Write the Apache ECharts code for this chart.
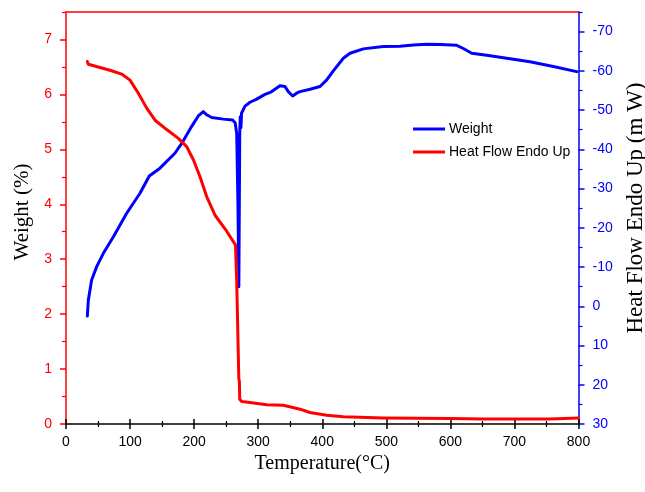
<!DOCTYPE html>
<html>
<head>
<meta charset="utf-8">
<script src="https://cdn.jsdelivr.net/npm/echarts@6/dist/echarts.min.js"></script>
<style>html,body{margin:0;padding:0;background:#fff;}#c{width:645px;height:492px;}</style>
</head>
<body>
<div id="c"></div>
<script>
// Blue series "Weight" (plotted on right axis, mW)
const blueT = [33.3, 34.9, 40, 47.9, 58.3, 74, 94.7, 115.5, 130, 146.7, 170, 180.6, 196, 206.5, 214.3, 219.6, 227.4, 245.6, 260, 264, 266.5, 268.5, 269.8, 270.6, 271.2, 272, 273, 274, 279.4, 287.2, 297.7, 310.6, 320, 334, 341.9, 347, 353.8, 360, 365.3, 381, 396.5, 407, 417.3, 432.9, 443.3, 464.1, 495.3, 521.4, 542.2, 563, 584, 610, 620.2, 633.3, 656.7, 688, 724.3, 760.7, 797.2];
const blueV = [2.5, -1.6, -6.7, -10.1, -13.5, -17.7, -23.7, -28.8, -33.2, -35.2, -39.0, -41.5, -45.8, -48.5, -49.6, -48.8, -48.1, -47.7, -47.5, -46.8, -44, -25, -5, -5, -44, -48.3, -45.5, -49.2, -51, -52, -52.8, -54, -54.6, -56.2, -56.0, -54.7, -53.6, -54.3, -54.7, -55.3, -56.0, -57.7, -60.0, -63.2, -64.5, -65.6, -66.2, -66.3, -66.6, -66.8, -66.7, -66.5, -65.7, -64.5, -64.0, -63.2, -62.3, -61.1, -59.8];
// Red series "Heat Flow Endo Up" (plotted on left axis, %)
const redT = [33.3, 34.8, 53, 68.7, 86.9, 99.9, 112.9, 126, 139, 157.2, 175.3, 188.4, 198.8, 209.2, 219.6, 232.6, 250.8, 264.5, 266.5, 268.5, 269.8, 269.4, 270.6, 271.2, 274.2, 287.2, 313.3, 339.2, 365.3, 380.7, 407, 432.9, 495.3, 599.4, 651.4, 755, 800];
const redW = [6.6, 6.55, 6.49, 6.44, 6.37, 6.26, 6.02, 5.75, 5.53, 5.36, 5.20, 5.05, 4.81, 4.5, 4.14, 3.8, 3.51, 3.26, 2.6, 1.5, 0.82, 0.8, 0.78, 0.45, 0.41, 0.39, 0.35, 0.34, 0.27, 0.21, 0.16, 0.13, 0.11, 0.10, 0.09, 0.09, 0.11];
// Tick labels
const xTicks = [0, 100, 200, 300, 400, 500, 600, 700, 800];
const leftTicks = [0, 1, 2, 3, 4, 5, 6, 7];
const leftMinor = [0.5, 1.5, 2.5, 3.5, 4.5, 5.5, 6.5, 7.5];
const rightTicks = [-70, -60, -50, -40, -30, -20, -10, 0, 10, 20, 30];
const rightMinor = [-75, -65, -55, -45, -35, -25, -15, -5, 5, 15, 25];

const RED = '#ff0000', BLUE = '#0000ff';
const SANS = 'Liberation Sans', SERIF = 'Liberation Serif';

const blueData = blueT.map((t, i) => [t, blueV[i]]);
const redData = redT.map((t, i) => [t, redW[i]]);

const chart = echarts.init(document.getElementById('c'), null, {renderer: 'canvas'});
chart.setOption({
  animation: false,
  backgroundColor: '#fff',
  grid: {left: 66, right: 66.5, top: 12, bottom: 68, containLabel: false, outerBoundsMode: 'none'},
  legend: {
    orient: 'vertical', left: 413, top: 122, padding: 0, itemWidth: 32, itemHeight: 3, itemGap: 9,
    icon: 'rect',
    textStyle: {fontFamily: SANS, fontSize: 14, color: '#000', padding: [0, 0, 0, -1]},
    data: ['Weight', 'Heat Flow Endo Up']
  },
  xAxis: [
    {
      type: 'value', min: 0, max: 800, interval: 100, position: 'bottom',
      axisLine: {show: true, onZero: false, lineStyle: {color: '#000', width: 1.5}},
      axisTick: {show: true, length: 5, customValues: xTicks, lineStyle: {color: '#000', width: 1.5}},
      minorTick: {show: true, splitNumber: 2, length: 3, lineStyle: {color: '#000', width: 1.2}},
      axisLabel: {customValues: xTicks, fontFamily: SANS, fontSize: 14, color: '#000', margin: 11},
      splitLine: {show: false},
      name: 'Temperature(°C)', nameLocation: 'middle', nameGap: 30,
      nameTextStyle: {fontFamily: SERIF, fontSize: 20, color: '#000'}
    },
    {
      type: 'value', min: 0, max: 800, interval: 100, position: 'bottom',
      axisLine: {show: false, onZero: false},
      axisTick: {show: true, inside: true, length: 5, lineStyle: {color: '#000', width: 1.5}},
      minorTick: {show: true, splitNumber: 2, length: 3, lineStyle: {color: '#000', width: 1.2}},
      axisLabel: {show: false},
      splitLine: {show: false}
    },
    {
      type: 'value', min: 0, max: 800, position: 'top',
      axisLine: {show: true, onZero: false, lineStyle: {color: RED, width: 1.5}},
      axisTick: {show: false}, axisLabel: {show: false}, splitLine: {show: false}
    }
  ],
  yAxis: [
    {
      type: 'value', min: 0, max: 7.5, position: 'left',
      axisLine: {show: true, onZero: false, lineStyle: {color: RED, width: 1.5}},
      axisTick: {show: true, length: 6, customValues: leftTicks, lineStyle: {color: RED, width: 1.5}},
      axisLabel: {customValues: leftTicks, fontFamily: SANS, fontSize: 14, color: RED, margin: 14},
      splitLine: {show: false},
      name: 'Weight (%)', nameLocation: 'middle', nameGap: 31,
      nameTextStyle: {fontFamily: SERIF, fontSize: 21, color: '#000', padding: [0, 0, 0, 12]}
    },
    {
      type: 'value', min: -75, max: 30, inverse: true, position: 'right',
      axisLine: {show: true, onZero: false, lineStyle: {color: BLUE, width: 1.5}},
      axisTick: {show: true, length: 6, customValues: rightTicks, lineStyle: {color: BLUE, width: 1.5}},
      axisLabel: {customValues: rightTicks, fontFamily: SANS, fontSize: 14, color: BLUE, margin: 14},
      splitLine: {show: false},
      name: 'Heat Flow Endo Up (m W)', nameLocation: 'middle', nameGap: 46,
      nameTextStyle: {fontFamily: SERIF, fontSize: 23, color: '#000', padding: [0, 0, 0, 20]}
    },
    {
      type: 'value', min: 0, max: 7.5, position: 'left',
      axisLine: {show: false, onZero: false},
      axisTick: {show: true, length: 4, customValues: leftMinor, lineStyle: {color: RED, width: 1.2}},
      axisLabel: {show: false}, splitLine: {show: false}
    },
    {
      type: 'value', min: -75, max: 30, inverse: true, position: 'right',
      axisLine: {show: false, onZero: false},
      axisTick: {show: true, length: 4, customValues: rightMinor, lineStyle: {color: BLUE, width: 1.2}},
      axisLabel: {show: false}, splitLine: {show: false}
    }
  ],
  series: [
    {
      name: 'Weight', type: 'line', xAxisIndex: 0, yAxisIndex: 1, data: blueData,
      showSymbol: false, symbol: 'none', color: BLUE,
      lineStyle: {color: BLUE, width: 3, join: 'round', cap: 'round'}
    },
    {
      name: 'Heat Flow Endo Up', type: 'line', xAxisIndex: 0, yAxisIndex: 0, data: redData,
      showSymbol: false, symbol: 'none', color: RED,
      lineStyle: {color: RED, width: 3, join: 'round', cap: 'round'}
    }
  ]
});
</script>
</body>
</html>
